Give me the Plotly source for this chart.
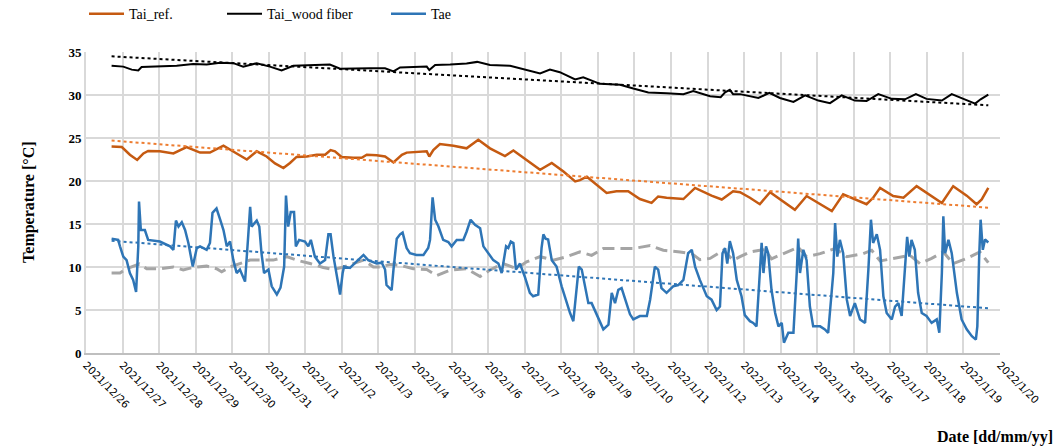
import plotly.graph_objects as go
import pandas as pd

START = pd.Timestamp("2021-12-26")

# tick labels: one per day
tick_dates = pd.date_range("2021-12-26", "2022-01-20", freq="D")
tick_labels = [f"{d.year}/{d.month}/{d.day}" for d in tick_dates]

# Tai_ref. (days after 2021/12/26 00:00, °C)
ref_days = [0.70, 0.98, 1.20, 1.40, 1.57, 1.70, 2.02, 2.39, 2.75, 3.12, 3.39, 3.76, 4.12, 4.40,
            4.67, 4.94, 5.17, 5.40, 5.58, 5.76, 6.04, 6.31, 6.54, 6.69, 6.81, 6.99, 7.31, 7.54,
            7.68, 7.95, 8.18, 8.41, 8.64, 8.77, 9.32, 9.39, 9.50, 9.68, 10.05, 10.41, 10.73,
            11.05, 11.46, 11.69, 12.05, 12.42, 12.74, 13.06, 13.38, 13.51, 13.70, 13.97, 14.24,
            14.51, 14.83, 15.15, 15.47, 15.65, 15.88, 16.34, 16.66, 17.11, 17.39, 17.70, 17.89,
            18.16, 18.43, 18.71, 19.07, 19.39, 19.71, 20.08, 20.40, 20.71, 21.03, 21.35, 21.53,
            21.72, 22.08, 22.36, 22.72, 23.09, 23.41, 23.72, 24.09, 24.36, 24.50, 24.68]
ref_vals = [24.0, 23.95, 23.05, 22.45, 23.2, 23.5, 23.45, 23.2, 23.95, 23.3, 23.3, 24.1, 23.2, 22.5,
            23.45, 22.85, 22.05, 21.5, 22.1, 22.8, 22.85, 23.05, 23.05, 23.6, 23.45, 22.8, 22.7, 22.7,
            23.05, 23.0, 22.85, 22.15, 23.05, 23.3, 23.45, 22.85, 23.6, 24.3, 24.1, 23.8, 24.8,
            23.8, 22.9, 23.55, 22.45, 21.3, 22.1, 21.1, 19.95, 20.1, 20.5, 19.55, 18.6,
            18.8, 18.8, 17.9, 17.45, 18.2, 18.05, 17.9, 19.2, 18.3, 17.85, 18.8, 18.7,
            18.05, 17.3, 18.7, 17.65, 16.65, 18.25, 17.3, 16.5, 18.45, 17.85, 17.3, 18.05,
            19.2, 18.25, 18.05, 19.4, 18.3, 17.45, 19.4, 18.3, 17.3, 17.85, 19.2]

# Tai_wood fiber
wood_days = [0.70, 1.02, 1.25, 1.43, 1.52, 1.75, 2.48, 2.93, 3.30, 3.67, 4.03, 4.30, 4.67, 5.03,
             5.35, 5.67, 6.22, 6.67, 6.95, 7.31, 7.77, 8.18, 8.41, 8.59, 9.32, 9.39, 9.55, 9.96,
             10.41, 10.70, 11.05, 11.60, 12.05, 12.42, 12.69, 12.96, 13.38, 13.60, 14.06, 14.61,
             14.97, 15.38, 15.88, 16.34, 16.61, 17.07, 17.36, 17.48, 17.61, 17.70, 17.89, 18.39,
             18.69, 18.98, 19.35, 19.67, 20.03, 20.35, 20.67, 21.03, 21.35, 21.67, 22.04, 22.40,
             22.70, 22.99, 23.41, 23.68, 24.00, 24.32, 24.47, 24.68]
wood_vals = [33.4, 33.3, 32.95, 32.85, 33.25, 33.3, 33.4, 33.6, 33.55, 33.75, 33.7, 33.3, 33.7, 33.3,
             32.85, 33.4, 33.45, 33.55, 33.05, 33.1, 33.1, 33.1, 32.75, 33.2, 33.3, 32.9, 33.5, 33.55,
             33.65, 33.85, 33.5, 33.4, 32.95, 32.5, 32.95, 32.65, 31.8, 32.05, 31.3, 31.2,
             30.75, 30.3, 30.2, 30.1, 30.45, 29.85, 29.75, 30.3, 30.6, 30.1, 30.1, 29.65,
             30.25, 29.65, 29.2, 29.95, 29.35, 29.05, 29.95, 29.35, 29.3, 30.1, 29.55, 29.5,
             30.1, 29.55, 29.35, 30.1, 29.55, 29.0, 29.5, 30.05]

# Tae
tae_days = [0.70, 0.88, 0.93, 1.02, 1.11, 1.20, 1.29, 1.37, 1.43, 1.45, 1.50, 1.61, 1.70, 2.02,
            2.30, 2.39, 2.46, 2.53, 2.62, 2.71, 2.80, 2.92, 3.03, 3.12, 3.30, 3.39, 3.46, 3.57,
            3.67, 3.76, 3.85, 3.94, 4.03, 4.12, 4.21, 4.35, 4.44, 4.49, 4.53, 4.67, 4.74, 4.80,
            4.87, 4.99, 5.08, 5.22, 5.32, 5.42, 5.47, 5.53, 5.60, 5.69, 5.74, 5.83, 5.99, 6.08,
            6.15, 6.26, 6.40, 6.54, 6.63, 6.69, 6.77, 6.86, 6.95, 7.02, 7.06, 7.22, 7.45, 7.59,
            7.72, 7.95, 8.09, 8.18, 8.22, 8.36, 8.41, 8.50, 8.59, 8.66, 8.77, 8.86, 9.04, 9.23,
            9.36, 9.41, 9.48, 9.55, 9.64, 9.77, 9.91, 10.00, 10.14, 10.32, 10.41, 10.52, 10.64,
            10.78, 10.87, 11.00, 11.14, 11.28, 11.37, 11.49, 11.55, 11.62, 11.69, 11.76, 11.87,
            12.00, 12.14, 12.23, 12.37, 12.46, 12.51, 12.57, 12.64, 12.74, 12.87, 13.01, 13.15,
            13.24, 13.33, 13.42, 13.48, 13.56, 13.65, 13.74, 13.83, 13.97, 14.06, 14.15, 14.29,
            14.38, 14.47, 14.56, 14.65, 14.79, 14.88, 14.97, 15.15, 15.34, 15.43, 15.56, 15.65,
            15.74, 15.88, 16.06, 16.20, 16.34, 16.47, 16.57, 16.66, 16.79, 16.98, 17.11, 17.25,
            17.34, 17.41, 17.48, 17.54, 17.61, 17.70, 17.80, 17.93, 18.02, 18.16, 18.25, 18.34,
            18.43, 18.48, 18.53, 18.60, 18.66, 18.75, 18.85, 18.94, 19.03, 19.09, 19.21, 19.35,
            19.44, 19.48, 19.53, 19.62, 19.71, 19.80, 19.89, 20.08, 20.21, 20.30, 20.44, 20.49,
            20.55, 20.62, 20.71, 20.81, 20.90, 21.03, 21.17, 21.31, 21.40, 21.47, 21.53, 21.63,
            21.72, 21.81, 21.90, 22.04, 22.13, 22.22, 22.31, 22.40, 22.46, 22.52, 22.58, 22.67,
            22.76, 22.86, 22.99, 23.13, 23.27, 23.34, 23.41, 23.45, 23.50, 23.59, 23.68, 23.82,
            23.95, 24.09, 24.23, 24.34, 24.38, 24.43, 24.47, 24.53, 24.59, 24.68]
tae_vals = [13.3, 13.15, 12.4, 11.2, 10.8, 9.3, 8.5, 7.1, 12.4, 17.6, 14.3, 14.3, 13.15, 12.96,
            12.4, 12.0, 15.4, 14.7, 15.2, 14.3, 12.8, 10.05, 12.2, 12.4, 12.0, 12.8, 16.3, 16.8,
            15.5, 14.3, 12.4, 12.96, 10.8, 9.3, 9.7, 8.3, 13.8, 17.0, 14.7, 15.4, 14.7, 11.6,
            9.3, 9.7, 7.75, 6.8, 7.6, 10.05, 18.3, 14.7, 16.4, 16.4, 12.4, 13.15, 12.96, 12.4,
            13.15, 11.2, 10.4, 10.8, 13.8, 13.8, 11.2, 8.9, 6.8, 9.3, 10.05, 9.9, 10.8, 11.4,
            10.8, 10.4, 10.5, 9.7, 7.9, 7.3, 9.7, 13.3, 13.8, 14.0, 12.2, 11.6, 11.4, 11.4,
            12.2, 13.15, 18.1, 15.5, 14.7, 13.15, 12.9, 12.4, 13.15, 13.15, 14.1, 15.5, 14.9,
            14.5, 12.4, 11.6, 10.8, 10.4, 9.3, 12.4, 12.2, 12.96, 12.8, 9.7, 10.4,
            8.9, 7.0, 6.6, 6.8, 12.2, 13.8, 13.3, 13.2, 10.8, 10.05, 7.75, 5.8,
            4.65, 3.7, 7.75, 10.05, 9.7, 7.75, 5.8, 5.8, 4.5, 3.5, 2.75, 3.3,
            7.0, 5.8, 7.35, 7.55, 5.8, 4.5, 3.9, 4.3, 4.3, 6.2, 10.05, 9.7,
            7.55, 7.0, 7.75, 7.9, 8.5, 11.6, 12.0, 10.05, 8.5, 6.6, 6.2, 5.0,
            5.4, 11.6, 12.2, 10.4, 13.0, 11.6, 8.5, 6.6, 4.4, 3.7, 3.5, 3.1,
            9.3, 12.8, 9.3, 12.4, 11.6, 7.35, 4.65, 3.1, 3.5, 1.2, 2.35, 2.35,
            9.3, 13.3, 9.3, 12.0, 10.8, 5.4, 3.1, 3.1, 2.75, 2.35, 9.3, 15.1,
            11.2, 13.15, 11.6, 6.2, 4.3, 5.8, 3.9, 3.5, 9.7, 15.5, 12.8, 13.8,
            12.0, 6.6, 4.65, 3.9, 5.4, 5.8, 4.3, 9.3, 13.5, 11.2, 13.15, 12.0,
            7.0, 4.65, 4.3, 3.5, 3.9, 2.35, 9.3, 15.9, 11.6, 13.15, 11.6, 7.0,
            3.9, 2.75, 1.95, 1.55, 3.1, 11.2, 15.5, 12.0, 13.2, 12.85]

# unlabeled grey dashed series
grey_days = [0.70, 0.93, 1.11, 1.46, 1.66, 2.02, 2.39, 2.66, 2.93, 3.30, 3.57, 3.71, 3.94, 4.21,
             4.49, 4.85, 5.12, 5.49, 5.76, 6.13, 6.49, 6.77, 7.04, 7.31, 7.59, 7.86, 8.04, 8.32,
             8.59, 8.95, 9.32, 9.59, 9.96, 10.41, 10.78, 11.05, 11.41, 11.78, 12.05, 12.42, 12.78,
             13.15, 13.51, 13.83, 14.15, 14.51, 14.97, 15.43, 15.79, 16.25, 16.57, 16.79, 17.07,
             17.43, 17.70, 17.89, 18.16, 18.43, 18.57, 18.75, 19.07, 19.48, 19.71, 20.08, 20.49,
             20.81, 21.26, 21.49, 21.72, 22.08, 22.54, 22.81, 23.13, 23.45, 23.72, 24.09, 24.45, 24.68]
grey_vals = [9.3, 9.3, 9.8, 10.35, 9.8, 9.8, 10.0, 9.65, 9.95, 10.1, 9.8, 9.45, 10.0, 10.4,
             10.8, 10.8, 10.8, 11.2, 10.8, 10.4, 9.95, 9.7, 10.0, 10.4, 10.8, 10.0, 10.0, 10.3,
             10.2, 9.8, 9.7, 9.0, 9.65, 9.8, 8.9, 9.65, 10.4, 9.8, 10.6, 11.2, 10.8,
             11.2, 11.75, 11.35, 12.15, 12.15, 12.15, 12.5, 11.95, 11.75, 11.55, 10.85, 11.0,
             11.95, 10.8, 11.2, 11.75, 11.95, 12.0, 10.95, 11.55, 12.3, 11.2, 11.55, 12.15,
             11.2, 11.55, 11.95, 10.7, 11.0, 11.35, 10.4, 11.0, 11.75, 10.4, 11.0, 11.75, 10.5]

# linear trend lines (start / end)
trend_days = [0.70, 24.68]
ref_trend = [24.7, 16.9]
wood_trend = [34.5, 28.8]
tae_trend = [13.05, 5.2]


def to_time(days):
    return START + pd.to_timedelta(days, unit="D")


ORANGE = "#C55A11"
BLACK = "#000000"
BLUE = "#2E75B6"
GREY = "#A5A5A5"

fig = go.Figure()

fig.add_trace(go.Scatter(x=to_time(ref_days), y=ref_vals, name="Tai_ref.", mode="lines",
                         line=dict(color=ORANGE, width=2.5), legend="legend"))
fig.add_trace(go.Scatter(x=to_time(wood_days), y=wood_vals, name="Tai_wood fiber", mode="lines",
                         line=dict(color=BLACK, width=2), legend="legend2"))
fig.add_trace(go.Scatter(x=to_time(grey_days), y=grey_vals, name="grey", mode="lines",
                         line=dict(color=GREY, width=3, dash="12px,6px"), showlegend=False))
fig.add_trace(go.Scatter(x=to_time(tae_days), y=tae_vals, name="Tae", mode="lines",
                         line=dict(color=BLUE, width=2.5), legend="legend3"))

for vals, col in [(ref_trend, "#ED7D31"), (wood_trend, BLACK), (tae_trend, BLUE)]:
    fig.add_trace(go.Scatter(x=to_time(trend_days), y=vals, mode="lines", showlegend=False,
                             line=dict(color=col, width=2, dash="dot"), hoverinfo="skip"))

legend_font = dict(family="Liberation Serif", size=14, color="black")
legend_common = dict(orientation="h", xref="container", yref="container", y=0.986,
                     yanchor="middle", font=legend_font, bgcolor="rgba(0,0,0,0)",
                     itemwidth=35)

# the page body adds an 8px offset, so margins are set 8px smaller on top/left
fig.update_layout(
    width=1063, height=446,
    margin=dict(l=78, r=71, t=44, b=101, autoexpand=False),
    plot_bgcolor="white", paper_bgcolor="white",
    legend=dict(x=76 / 1063, **legend_common),
    legend2=dict(x=214 / 1063, **legend_common),
    legend3=dict(x=378 / 1063, **legend_common),
    xaxis=dict(
        type="date", automargin=False,
        range=[tick_dates[0], tick_dates[-1]],
        tickvals=tick_dates, ticktext=tick_labels, tickangle=45,
        tickfont=dict(family="DejaVu Sans", size=10.5, color="black"),
        showgrid=True, gridcolor="#D9D9D9", gridwidth=2,
        showline=True, linecolor="#BFBFBF", linewidth=2,
        ticks="", zeroline=False,
    ),
    yaxis=dict(
        automargin=False,
        range=[0, 35], dtick=5, tick0=0,
        tickfont=dict(family="Liberation Serif", size=13, color="black", weight="bold"),
        showgrid=True, gridcolor="#D9D9D9", gridwidth=2,
        showline=True, linecolor="#D9D9D9", linewidth=2,
        ticks="", zeroline=False,
    ),
    annotations=[
        dict(text="Temperature [°C]", xref="paper", yref="paper", x=-0.063, y=0.5,
             textangle=-90, showarrow=False, xanchor="center", yanchor="middle",
             font=dict(family="Liberation Serif", size=16, color="black", weight="bold")),
        dict(text="Date [dd/mm/yy]", xref="paper", yref="paper", x=1.06, y=-0.279,
             showarrow=False, xanchor="right", yanchor="middle",
             font=dict(family="Liberation Serif", size=16, color="black", weight="bold")),
    ],
)

fig.write_html("out.html")
